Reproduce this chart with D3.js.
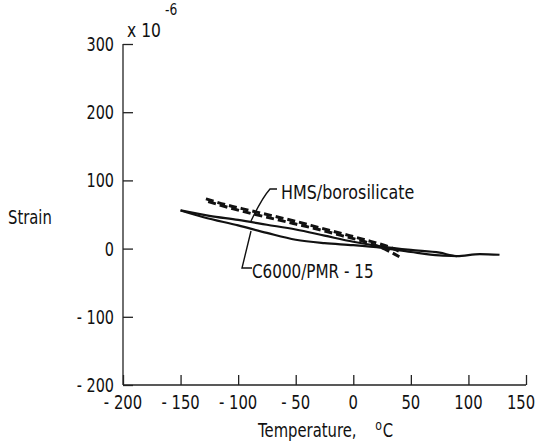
<!DOCTYPE html>
<html>
<head>
<meta charset="utf-8">
<script src="https://cdn.jsdelivr.net/npm/d3@7"></script>
<style>
  body { margin: 0; background: #fff; }
  text { font-family: "DejaVu Sans", sans-serif; fill: #111; }
</style>
</head>
<body>
<svg id="chart" width="540" height="443"></svg>
<script>
const xTicks = [-200, -150, -100, -50, 0, 50, 100, 150];
const yTicks = [-200, -100, 0, 100, 200, 300];

// C6000/PMR-15 (solid), upper and lower branch of the loop
const pmrUp = [[-150, 56], [-125, 48], [-100, 42], [-75, 35], [-50, 28], [-25, 19], [0, 10], [25, 3], [50, -2], [75, -6], [90, -11], [110, -8], [127, -9]];
const pmrDown = [[-150, 56], [-130, 46], [-100, 34], [-75, 23], [-50, 13], [-25, 8], [0, 5], [25, 1], [50, -5], [75, -10], [90, -11]];
// HMS/borosilicate (dashed)
const hmsUp = [[-128, 73], [-110, 64], [-90, 56], [-70, 48], [-50, 40], [-30, 31], [-10, 22], [10, 13], [30, 3], [40, -4]];
const hmsDown = [[-126, 69], [-110, 61], [-90, 52], [-70, 44], [-50, 36], [-30, 28], [-10, 19], [10, 10], [30, -3], [40, -12]];

const svg = d3.select('#chart');
const x = d3.scaleLinear().domain([-200, 150]).range([123, 526]);
const y = d3.scaleLinear().domain([-200, 300]).range([385, 44]);

// narrow lettering: squeeze the text horizontally
function label(px, py, str, size, anchor, sx) {
  return svg.append('g')
    .attr('transform', `translate(${px},${py}) scale(${sx},1)`)
    .append('text')
    .attr('font-size', size)
    .attr('text-anchor', anchor)
    .text(str);
}

// axes, ticks pointing inward
const xAxis = d3.axisTop(x).tickValues(xTicks).tickSize(10).tickFormat('');
const gx = svg.append('g').attr('transform', `translate(0,${y(-200)})`).call(xAxis);
const yAxis = d3.axisRight(y).tickValues(yTicks).tickSize(10).tickFormat('');
const gy = svg.append('g').attr('transform', `translate(${x(-200)},0)`).call(yAxis);
[gx, gy].forEach(g => {
  g.select('.domain').attr('stroke', '#222').attr('stroke-width', 1.3);
  g.selectAll('.tick line').attr('stroke', '#222').attr('stroke-width', 1.3);
});
gx.select('.domain').attr('d', `M${x(-200)},0H${x(150)}`);
gy.select('.domain').attr('d', `M0,${y(-200)}V${y(300)}`);

const fmt = d => d < 0 ? '- ' + Math.abs(d) : String(d);
xTicks.forEach(d => label(Math.min(x(d), 521), 409, fmt(d), 19, 'middle', 0.78));
yTicks.forEach(d => label(114, y(d) + 7, fmt(d), 19, 'end', 0.76));

// axis titles
const xt = label(258, 437, 'Temperature,', 19, 'start', 0.78);
xt.append('tspan').attr('font-size', 14).attr('dx', 24).attr('dy', -7).text('o');
xt.append('tspan').attr('dx', 1).attr('dy', 7).text('C');
label(8, 224, 'Strain', 19, 'start', 0.78);
const ex = label(127, 37, 'x 10', 19, 'start', 0.82);
ex.append('tspan').attr('font-size', 15).attr('dx', 5).attr('dy', -22).text('-6');

// curves
const line = d3.line().x(d => x(d[0])).y(d => y(d[1])).curve(d3.curveMonotoneX);
[pmrUp, pmrDown].forEach(d => {
  svg.append('path').attr('d', line(d)).attr('fill', 'none')
    .attr('stroke', '#111').attr('stroke-width', 2.2);
});
[hmsUp, hmsDown].forEach(d => {
  svg.append('path').attr('d', line(d)).attr('fill', 'none')
    .attr('stroke', '#111').attr('stroke-width', 3).attr('stroke-dasharray', '8,4');
});

// labels with leader lines
label(281, 199, 'HMS/borosilicate', 19, 'start', 0.84);
svg.append('path').attr('d', 'M277,189H270Q262,198 251,221').attr('fill', 'none').attr('stroke', '#111').attr('stroke-width', 1.4);
label(252, 278, 'C6000/PMR - 15', 19, 'start', 0.8);
svg.append('path').attr('d', 'M252,268H242L251,231').attr('fill', 'none').attr('stroke', '#111').attr('stroke-width', 1.4);
</script>
</body>
</html>
